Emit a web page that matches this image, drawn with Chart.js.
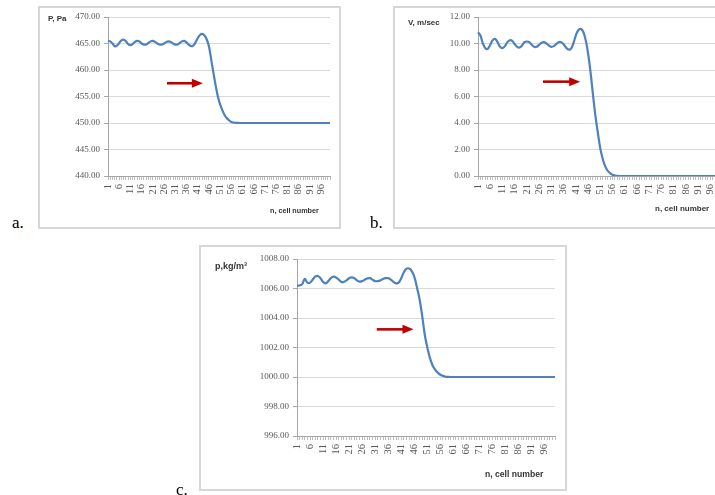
<!DOCTYPE html>
<html>
<head>
<meta charset="utf-8">
<script src="https://cdn.jsdelivr.net/npm/chart.js@4"></script>
<style>
  html, body { margin:0; padding:0; background:#fff; width:715px; height:495px; overflow:hidden; position:relative; }
  .box { position:absolute; border:2px solid #d6d6d6; box-sizing:border-box; }
  canvas { position:absolute; }
  .t { position:absolute; white-space:nowrap; font-family:"Liberation Sans", Arial, sans-serif; font-weight:bold; color:#333; line-height:10px; }
  .lab { position:absolute; font-family:"Liberation Serif", "Times New Roman", serif; font-size:17px; line-height:17px; color:#000; }
</style>
</head>
<body>
<div class="box" style="left:38px;top:6px;width:303px;height:223px"></div>
<div class="box" style="left:393px;top:6px;width:400px;height:223px"></div>
<div class="box" style="left:199px;top:245px;width:368px;height:246px"></div>

<canvas id="chartA" width="302" height="221" style="left:38px;top:7px;width:302px;height:221px"></canvas>
<canvas id="chartB" width="336" height="221" style="left:394px;top:7px;width:336px;height:221px"></canvas>
<canvas id="chartC" width="366" height="244" style="left:200px;top:246px;width:366px;height:244px"></canvas>

<div class="t" style="left:48px;top:14px;font-size:8px;">P, Pa</div>
<div class="t" style="left:408px;top:18px;font-size:8px;">V, m/sec</div>
<div class="t" style="left:215px;top:261px;font-size:9px;">p,kg/m³</div>
<div class="t" style="left:270px;top:206px;font-size:7.2px;">n, cell number</div>
<div class="t" style="left:655px;top:204px;font-size:8px;">n, cell number</div>
<div class="t" style="left:485px;top:469px;font-size:8.6px;">n, cell number</div>

<div class="lab" style="left:12px;top:214px;">a.</div>
<div class="lab" style="left:370px;top:214px;">b.</div>
<div class="lab" style="left:176px;top:481px;">c.</div>

<script>
// ---- data ----
const cells = [
  '1','2','3','4','5','6','7','8','9','10',
  '11','12','13','14','15','16','17','18','19','20',
  '21','22','23','24','25','26','27','28','29','30',
  '31','32','33','34','35','36','37','38','39','40',
  '41','42','43','44','45','46','47','48','49','50',
  '51','52','53','54','55','56','57','58','59','60',
  '61','62','63','64','65','66','67','68','69','70',
  '71','72','73','74','75','76','77','78','79','80',
  '81','82','83','84','85','86','87','88','89','90',
  '91','92','93','94','95','96','97','98','99','100'
];
const xTickLabels = ['1','6','11','16','21','26','31','36','41','46','51','56','61','66','71','76','81','86','91','96'];

const pressure = [
  465.5, 465.4, 465.0, 464.5, 464.6, 465.1, 465.6, 465.7, 465.4, 464.9,
  464.7, 464.9, 465.3, 465.5, 465.4, 465.0, 464.8, 464.8, 465.1, 465.4,
  465.5, 465.3, 465.0, 464.8, 464.8, 465.0, 465.3, 465.4, 465.3, 465.0,
  464.8, 464.8, 465.1, 465.4, 465.5, 465.2, 464.8, 464.5, 464.6, 465.2,
  466.0, 466.6, 466.8, 466.5, 465.8, 464.5, 462.0, 459.5, 457.1, 455.0,
  453.5, 452.4, 451.5, 450.9, 450.5, 450.2, 450.1, 450.03, 450.01, 450.0,
  450, 450, 450, 450, 450, 450, 450, 450, 450, 450,
  450, 450, 450, 450, 450, 450, 450, 450, 450, 450,
  450, 450, 450, 450, 450, 450, 450, 450, 450, 450,
  450, 450, 450, 450, 450, 450, 450, 450, 450, 450
];
const velocity = [
  10.85, 10.6, 10.0, 9.65, 9.6, 9.9, 10.25, 10.35, 10.1, 9.75,
  9.65, 9.8, 10.1, 10.25, 10.2, 9.95, 9.75, 9.7, 9.85, 10.1,
  10.15, 10.1, 9.9, 9.75, 9.75, 9.9, 10.05, 10.1, 10.0, 9.85,
  9.75, 9.8, 9.95, 10.1, 10.1, 9.95, 9.7, 9.55, 9.6, 10.0,
  10.6, 11.0, 11.1, 10.9, 10.3, 9.3, 7.9, 6.2, 4.6, 3.3,
  2.1, 1.3, 0.75, 0.4, 0.22, 0.1, 0.04, 0.01, 0, 0,
  0, 0, 0, 0, 0, 0, 0, 0, 0, 0,
  0, 0, 0, 0, 0, 0, 0, 0, 0, 0,
  0, 0, 0, 0, 0, 0, 0, 0, 0, 0,
  0, 0, 0, 0, 0, 0, 0, 0, 0, 0
];
const density = [
  1006.2, 1006.2, 1006.3, 1006.65, 1006.4, 1006.4, 1006.6, 1006.8, 1006.85, 1006.7,
  1006.45, 1006.35, 1006.5, 1006.7, 1006.8, 1006.75, 1006.6, 1006.45, 1006.45, 1006.55,
  1006.7, 1006.75, 1006.7, 1006.55, 1006.47, 1006.5, 1006.6, 1006.68, 1006.7, 1006.6,
  1006.5, 1006.5, 1006.55, 1006.65, 1006.7, 1006.7, 1006.6, 1006.45, 1006.35, 1006.4,
  1006.7, 1007.1, 1007.35, 1007.35, 1007.2, 1006.8, 1006.1, 1005.3, 1004.2, 1002.9,
  1002.0, 1001.3, 1000.8, 1000.5, 1000.3, 1000.15, 1000.08, 1000.03, 1000.01, 1000,
  1000, 1000, 1000, 1000, 1000, 1000, 1000, 1000, 1000, 1000,
  1000, 1000, 1000, 1000, 1000, 1000, 1000, 1000, 1000, 1000,
  1000, 1000, 1000, 1000, 1000, 1000, 1000, 1000, 1000, 1000,
  1000, 1000, 1000, 1000, 1000, 1000, 1000, 1000, 1000, 1000
];

// ---- arrow annotation (drawn through the chart's scales) ----
const arrowPlugin = {
  id: 'flowArrow',
  afterDatasetsDraw(chart, args, opts) {
    if (!opts || opts.from == null) return;
    const xs = chart.scales.x, ys = chart.scales.y, ctx = chart.ctx;
    const x0 = xs.getPixelForValue(opts.from - 1);
    const x1 = xs.getPixelForValue(opts.to - 1);
    const yy = ys.getPixelForValue(opts.level);
    ctx.save();
    ctx.strokeStyle = '#c00000';
    ctx.fillStyle = '#c00000';
    ctx.lineWidth = 2.6;
    ctx.beginPath();
    ctx.moveTo(x0, yy);
    ctx.lineTo(x1 - 9, yy);
    ctx.stroke();
    ctx.beginPath();
    ctx.moveTo(x1, yy);
    ctx.lineTo(x1 - 11, yy - 4.5);
    ctx.lineTo(x1 - 11, yy + 4.5);
    ctx.closePath();
    ctx.fill();
    ctx.restore();
  }
};

function makeChart(id, values, yMin, yMax, yStep, yWidth, xHeight, pad, arrow) {
  return new Chart(document.getElementById(id), {
    type: 'line',
    data: {
      labels: cells,
      datasets: [{
        data: values,
        borderColor: '#4f81bd',
        borderWidth: 2.2,
        pointRadius: 0,
        tension: 0.4,
        fill: false
      }]
    },
    options: {
      responsive: false,
      animation: false,
      devicePixelRatio: 1,
      layout: { padding: pad },
      plugins: { legend: { display: false }, tooltip: { enabled: false }, flowArrow: arrow },
      scales: {
        x: {
          type: 'category',
          offset: false,
          grid: { display: true, drawOnChartArea: false, drawTicks: true, tickLength: 4, color: '#bdbdbd' },
          border: { display: true, color: '#a6a6a6', width: 1 },
          ticks: {
            autoSkip: false,
            minRotation: 90,
            maxRotation: 90,
            padding: 4,
            color: '#595959',
            font: { family: '"Liberation Serif", "Times New Roman", serif', size: 10.5 },
            callback: function(v, i) { const l = cells[i]; return xTickLabels.includes(l) ? l : ''; }
          },
          afterFit: function(s) { s.height = xHeight; s.paddingLeft = 0; s.paddingRight = 0; }
        },
        y: {
          min: yMin,
          max: yMax,
          grid: { color: '#d9d9d9', lineWidth: 1, tickLength: 4, tickColor: '#a6a6a6' },
          border: { display: true, color: '#a6a6a6', width: 1 },
          ticks: {
            stepSize: yStep,
            padding: 4,
            color: '#595959',
            font: { family: '"Liberation Serif", "Times New Roman", serif', size: 9 },
            callback: function(v) { return Number(v).toFixed(2); }
          },
          afterFit: function(s) { s.width = yWidth; }
        }
      }
    },
    plugins: [arrowPlugin]
  });
}

makeChart('chartA', pressure, 440, 470, 5, 70, 52, { left: 0, top: 10, right: 10, bottom: 0 },
  { from: 27.3, to: 43.3, level: 457.5 });
makeChart('chartB', velocity, 0, 12, 2, 84, 52, { left: 0, top: 10, right: 10, bottom: 0 },
  { from: 27.6, to: 42.8, level: 7.12 });
makeChart('chartC', density, 996, 1008, 2, 97, 54, { left: 0, top: 13, right: 11, bottom: 0 },
  { from: 31.6, to: 45.7, level: 1003.23 });
</script>
</body>
</html>
